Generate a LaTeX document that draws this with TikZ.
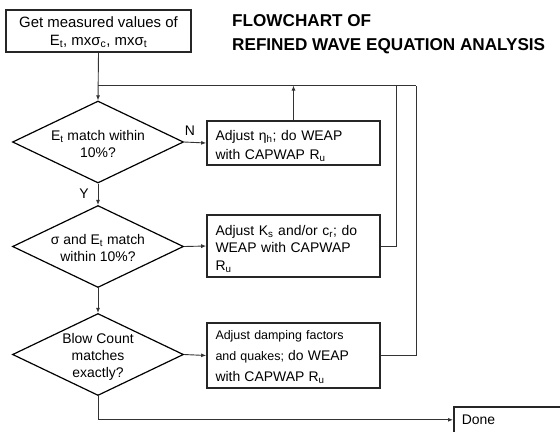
\documentclass[tikz,border=0pt]{standalone}
\usepackage{fontspec}
\setmainfont{Liberation Sans}
\usetikzlibrary{shapes.geometric,arrows.meta}
\tikzset{
  box/.style={draw=black!85, line width=1.6bp, rectangle, inner sep=0pt},
  dec/.style={draw=black, line width=1.2bp, diamond, inner sep=0pt, minimum width=171bp, minimum height=82bp},
  txt/.style={font=\fontsize{14}{18}\selectfont, align=center, inner sep=0pt},
  btxt/.style={font=\fontsize{14}{18.5}\selectfont, align=left, inner sep=0pt, text width=158bp},
  conn/.style={draw=black!80, line width=0.9bp},
  arr/.style={conn, -{Latex[length=5bp,width=4bp]}},
  lab/.style={font=\fontsize{14}{16}\selectfont, inner sep=0pt},
}
\begin{document}
\begin{tikzpicture}[x=1bp,y=-1bp]
\useasboundingbox (0,0) rectangle (560,431);
\clip (0,0) rectangle (560,431);
% title
\node (title) [anchor=north west, inner sep=0pt, align=left, font=\fontsize{17.2}{24}\selectfont\bfseries] at (232,14) {FLOWCHART OF\\REFINED WAVE EQUATION ANALYSIS};
% top box
\node (top) [box, minimum width=185bp, minimum height=42bp] at (98.5,31) {};
\node (toptxt) [txt, font=\fontsize{15}{18}\selectfont] at (98.5,32) {Get measured values of\\E\textsubscript{t}, mxσ\textsubscript{c}, mxσ\textsubscript{t}};
% diamonds
\node (d1) [dec] at (98,142) {};
\node (d1t) [txt] at (98,144) {E\textsubscript{t} match within\\10\%?};
\node (d2) [dec] at (98,246.5) {};
\node (d2t) [txt] at (98,248) {σ and E\textsubscript{t} match\\within 10\%?};
\node (d3) [dec] at (98,354.5) {};
\node (d3t) [txt, font=\fontsize{14}{17}\selectfont] at (98,357) {Blow Count\\matches\\exactly?};
% action boxes
\node (b1) [box, minimum width=173bp, minimum height=44bp] at (293.5,143) {};
\node (b1t) [btxt] at (294.5,146) {Adjust η\textsubscript{h}; do WEAP\\with CAPWAP R\textsubscript{u}};
\node (b2) [box, minimum width=173bp, minimum height=62bp] at (293.5,246) {};
\node (b2t) [btxt, font=\fontsize{14}{17.5}\selectfont] at (294.5,249) {Adjust K\textsubscript{s} and/or c\textsubscript{r}; do\\WEAP with CAPWAP\\R\textsubscript{u}};
\node (b3) [box, minimum width=173bp, minimum height=65bp] at (293.5,355.5) {};
\node (b3t) [btxt, font=\fontsize{12.5}{21}\selectfont] at (294.5,357) {Adjust damping factors\\and quakes; {\fontsize{14}{21}\selectfont do WEAP}\\{\fontsize{14}{21}\selectfont with CAPWAP R\textsubscript{u}}};
% done
\node (done) [box, anchor=north west, minimum width=150bp, minimum height=26bp, text width=140bp, align=left, font=\fontsize{14}{16}\selectfont, inner xsep=8bp] at (453,406) {Done};
% coordinates
\coordinate (j) at (98,85.5);
\coordinate (r1) at (396,85.5);
\coordinate (r2) at (416,85.5);
\coordinate (up) at (293.5,85.5);
% connectors
\draw[arr] (top.south) -- (d1.north);
\draw[conn] (j) -- (r2);
\draw[arr] (b1.north) -- (up);
\draw[conn] (b2.east) -| (r1);
\draw[conn] (b3.east) -| (r2);
\draw[arr] (d1.east) -- (b1.west);
\draw[arr] (d2.east) -- (b2.west);
\draw[arr] (d3.east) -- (b3.west);
\draw[arr] (d1.south) -- (d2.north);
\draw[arr] (d2.south) -- (d3.north);
\draw[arr] (d3.south) |- (done.west);
% labels
\node (N) [lab] at (190,131) {N};
\node (Y) [lab] at (84,194) {Y};
\end{tikzpicture}
\end{document}
